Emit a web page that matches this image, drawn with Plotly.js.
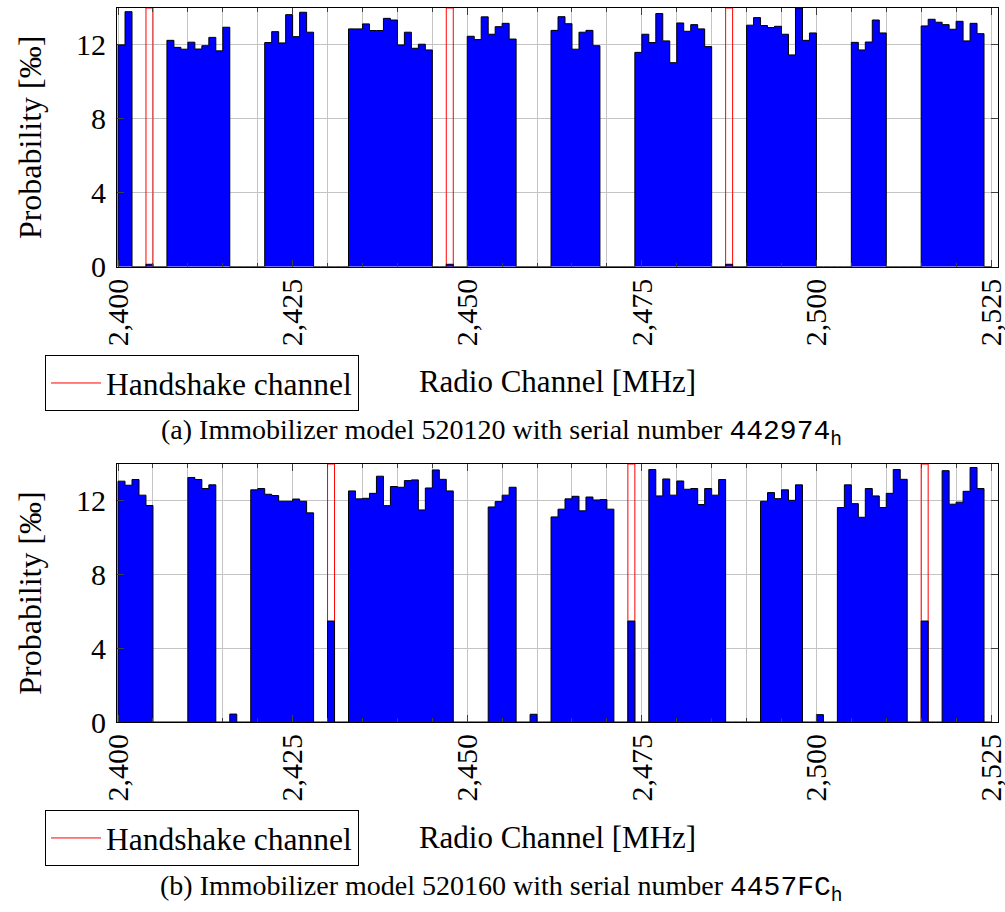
<!DOCTYPE html>
<html><head><meta charset="utf-8">
<script src="https://cdn.plot.ly/plotly-3.0.1.min.js"></script>
<style>html,body{margin:0;padding:0;background:#fff}</style>
</head><body>
<div id="chart" style="width:1005px;height:912px"></div>
<script>
// Radio channels 2400 ... 2524 MHz, one value per channel
const firstChannel = 2400;

// (a) Immobilizer model 520120, serial 442974h — probability in per mille
const probA = [
  12.0, 13.8, 0, 0, 0.13, 0, 0,
  12.25, 11.87, 11.77, 12.15, 11.78, 11.96, 12.41, 11.68, 12.96,
  0, 0, 0, 0, 0,
  12.13, 12.72, 12.11, 13.64, 12.45, 13.77, 12.69,
  0, 0, 0, 0, 0,
  12.87, 12.87, 13.14, 12.78, 12.78, 13.44, 13.35, 12.0, 12.69, 11.82, 12.04, 11.73,
  0, 0, 0.13, 0, 0,
  12.47, 12.29, 13.52, 12.58, 12.99, 13.17, 12.32,
  0, 0, 0, 0, 0,
  12.79, 13.53, 13.15, 11.77, 12.69, 12.79, 11.96,
  0, 0, 0, 0, 0,
  11.6, 12.58, 12.13, 13.7, 12.22, 11.04, 13.19, 12.74, 13.1, 12.87, 11.91,
  0, 0, 0.13, 0, 0,
  13.07, 13.48, 13.05, 12.94, 13.01, 12.58, 11.46, 14.0, 12.25, 12.65,
  0, 0, 0, 0, 0,
  12.14, 11.73, 12.16, 13.35, 12.65,
  0, 0, 0, 0, 0,
  13.03, 13.39, 13.23, 13.1, 12.85, 13.28, 12.22, 13.17, 12.61,
  0
];

// (b) Immobilizer model 520160, serial 4457FCh
const probB = [
  13.07, 12.85, 13.16, 12.31, 11.75,
  0, 0, 0, 0, 0,
  13.27, 13.16, 12.67, 12.87,
  0, 0, 0.43, 0, 0,
  12.6, 12.67, 12.36, 12.29, 11.98, 11.98, 12.1, 11.98, 11.35,
  0, 0, 5.48, 0, 0,
  12.54, 12.11, 12.14, 12.41, 13.34, 11.74, 12.78, 12.74, 13.1, 13.14, 11.51, 12.7, 13.68, 13.17, 12.54,
  0, 0, 0, 0, 0,
  11.67, 11.96, 12.31, 12.74,
  0, 0, 0.42, 0, 0,
  11.13, 11.55, 12.11, 12.25, 11.46, 12.21, 12.05, 12.07, 11.55,
  0, 0, 5.48, 0, 0,
  13.7, 12.27, 13.19, 12.31, 13.08, 12.63, 12.67, 11.8, 12.67, 12.31, 13.16,
  0, 0, 0, 0, 0,
  11.98, 12.45, 12.12, 12.6, 12.03, 12.87,
  0, 0, 0.4, 0, 0,
  11.64, 12.87, 11.85, 11.11, 12.67, 12.27, 11.64, 12.41, 13.7, 13.17,
  0, 0, 5.48, 0, 0,
  13.64, 11.82, 11.93, 12.52, 13.81, 12.67,
  0
];

const handshakeA = [2404, 2447, 2487];
const handshakeB = [2430, 2473, 2515];

const xTickVals = [2400, 2425, 2450, 2475, 2500, 2525];
const xTickText = ['2,400', '2,425', '2,450', '2,475', '2,500', '2,525'];
const yTickVals = [0, 4, 8, 12];
const yMax = 14;

const legendLabel = 'Handshake channel';
const xLabel = 'Radio Channel [MHz]';
const yLabel = 'Probability [‰]';
const MONO = 'font-family:Liberation Mono';
const captionA = '(a) Immobilizer model 520120 with serial number <span style="' + MONO + '">442974</span><sub><span style="' + MONO + '">h</span></sub>';
const captionB = '(b) Immobilizer model 520160 with serial number <span style="' + MONO + '">4457FC</span><sub><span style="' + MONO + '">h</span></sub>';

const SERIF = 'Liberation Serif';

function stepTrace(values, xa, ya) {
  const x = [firstChannel], y = [0];
  values.forEach((v, i) => { x.push(firstChannel + i); y.push(v); });
  x.push(firstChannel + values.length); y.push(0);
  return {type: 'scatter', mode: 'lines', x, y, xaxis: xa, yaxis: ya,
    line: {shape: 'hv', color: 'black', width: 1},
    fill: 'tozeroy', fillcolor: '#0000ff', showlegend: false};
}
function handshakeTrace(chs, xa, ya, legendId) {
  const x = [], y = [];
  chs.forEach(c => { x.push(c, c, c + 1, c + 1, c, null); y.push(0, yMax, yMax, 0, 0, null); });
  return {type: 'scatter', mode: 'lines', x, y, xaxis: xa, yaxis: ya,
    line: {color: '#ff0000', width: 1}, name: legendLabel, legend: legendId, showlegend: true};
}
const data = [
  handshakeTrace(handshakeA, 'x', 'y', 'legend'),
  stepTrace(probA, 'x', 'y'),
  handshakeTrace(handshakeB, 'x2', 'y2', 'legend2'),
  stepTrace(probB, 'x2', 'y2')
];

const gridColor = '#c4c4c4';
const tickColor = '#404040';
function xAxis(anchor) {
  return {anchor, domain: [0, 1], range: [2399.85, 2526],
    tickmode: 'array', tickvals: xTickVals, ticktext: xTickText, tickangle: -90,
    ticks: 'inside', ticklen: 7, tickcolor: tickColor, tickwidth: 1,
    ticklabelstandoff: -1, ticklabeloverflow: 'allow',
    showgrid: true, gridcolor: gridColor, gridwidth: 1,
    minor: {tickmode: 'linear', tick0: 2400, dtick: 5, ticks: 'inside', ticklen: 4,
            tickcolor: tickColor, showgrid: true, gridcolor: gridColor, gridwidth: 1},
    showline: true, linecolor: 'black', linewidth: 1, mirror: 'allticks',
    zeroline: false, automargin: false,
    tickfont: {family: SERIF, size: 30, color: 'black'},
    title: {text: xLabel, font: {family: SERIF, size: 31, color: 'black'}, standoff: 25}};
}
function yAxis(anchor, domain) {
  return {anchor, domain, range: [0, yMax],
    tickmode: 'array', tickvals: yTickVals,
    ticks: 'inside', ticklen: 7, tickcolor: tickColor, tickwidth: 1,
    ticklabelstandoff: 4, ticklabeloverflow: 'allow',
    showgrid: true, gridcolor: gridColor, gridwidth: 1,
    showline: true, linecolor: 'black', linewidth: 1, mirror: 'allticks',
    zeroline: false, automargin: false,
    tickfont: {family: SERIF, size: 30, color: 'black'},
    title: {text: yLabel, font: {family: SERIF, size: 32, color: 'black'}, standoff: 24}};
}
const legendStyle = {xanchor: 'left', yanchor: 'top', bgcolor: 'white',
  bordercolor: 'black', borderwidth: 1,
  font: {family: SERIF, size: 31.5, color: 'black'}, itemwidth: 50};

const layout = {
  width: 1005, height: 912,
  font: {family: SERIF, size: 30, color: 'black'},
  margin: {l: 117, r: 7, t: 8, b: 190},
  paper_bgcolor: 'white', plot_bgcolor: 'white', showlegend: true,
  xaxis: xAxis('y'), yaxis: yAxis('x', [0.6377, 1]),
  xaxis2: xAxis('y2'), yaxis2: yAxis('x2', [0, 0.3613]),
  legend: Object.assign({x: -0.0817, y: 0.5140}, legendStyle),
  legend2: Object.assign({x: -0.0817, y: -0.1232}, legendStyle),
  annotations: [
    {text: captionA, xref: 'paper', yref: 'paper', x: 0.437, y: 0.4048,
     xanchor: 'center', yanchor: 'middle', showarrow: false, font: {family: SERIF, size: 28, color: 'black'}},
    {text: captionB, xref: 'paper', yref: 'paper', x: 0.437, y: -0.2325,
     xanchor: 'center', yanchor: 'middle', showarrow: false, font: {family: SERIF, size: 28, color: 'black'}}
  ]
};

Plotly.newPlot('chart', data, layout, {displayModeBar: false, staticPlot: true});
</script>
</body></html>
